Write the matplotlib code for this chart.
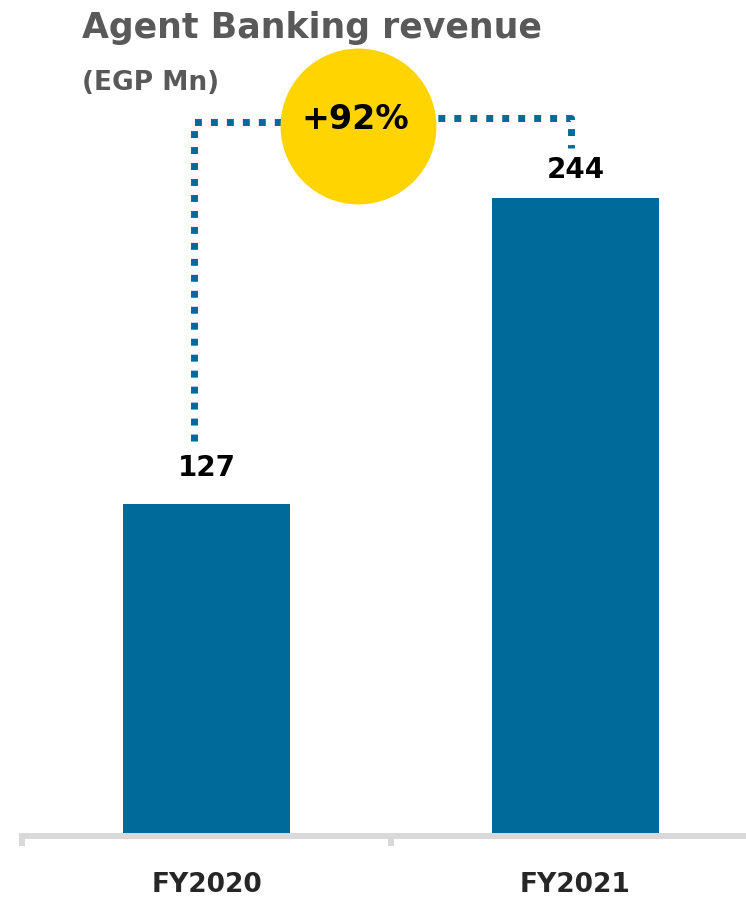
import matplotlib
matplotlib.use("Agg")
import matplotlib.pyplot as plt

# revenue per fiscal year, EGP Mn
years = ["FY2020", "FY2021"]
revenue = [127, 244]
growth_label = "+92%"

bar_color = "#006a9a"
ring_color = "#ffd400"
grey_text = "#595959"

fig = plt.figure(figsize=(7.46, 8.97), dpi=100)
ax = fig.add_axes([22 / 746, (897 - 836) / 897, (746 - 22) / 746, 836 / 897])

pos = list(range(len(years)))
ax.bar(pos, revenue, width=0.45, color=bar_color, zorder=1)

label_gap = [16, 10]  # points above each bar
for x, v, gap in zip(pos, revenue, label_gap):
    ax.annotate(str(v), (x, v), xytext=(0, gap), textcoords="offset points",
                ha="center", va="bottom", fontsize=20, fontweight="bold", color="black")

ax.set_xlim(-0.5, 1.462)
ax.set_ylim(0, 319.6)

# x axis: thick grey baseline with ticks between categories
for side in ["top", "left", "right"]:
    ax.spines[side].set_visible(False)
ax.spines["bottom"].set_color("#d9d9d9")
ax.spines["bottom"].set_linewidth(4.3)
ax.set_yticks([])
ax.set_xticks(pos)
ax.set_xticklabels(years, fontsize=19, fontweight="bold", color="#262626")
ax.tick_params(axis="x", which="major", length=0, pad=26)
ax.set_xticks([-0.5, 0.5], minor=True)
ax.tick_params(axis="x", which="minor", length=7, width=4.3, color="#d9d9d9", direction="out")

# dotted connector between the two bars, through the growth bubble
top_left = 273
top_right = 274.5
bubble_x, bubble_y = 0.41, 271.3
dots = dict(color=bar_color, lw=5, linestyle=(0, (1, 1.3)), dash_capstyle="butt", zorder=3)
ax.plot([-0.033, -0.033, bubble_x], [revenue[0] + 24, top_left, top_left], **dots)
ax.plot([bubble_x, 0.989, 0.989], [top_right, top_right, revenue[1] + 19], **dots)

ax.scatter([bubble_x], [bubble_y], s=12600, color=ring_color, zorder=4, linewidths=0)
ax.text(bubble_x - 0.008, bubble_y + 2.5, growth_label, ha="center", va="center",
        fontsize=24, fontweight="bold", color="black", zorder=5)

fig.text(82 / 746, 1 - 28 / 897, "Agent Banking revenue", ha="left", va="center",
         fontsize=25, fontweight="bold", color=grey_text)
fig.text(82 / 746, 1 - 83 / 897, "(EGP Mn)", ha="left", va="center",
         fontsize=19, fontweight="bold", color=grey_text)

fig.savefig("out.png", dpi=100)
